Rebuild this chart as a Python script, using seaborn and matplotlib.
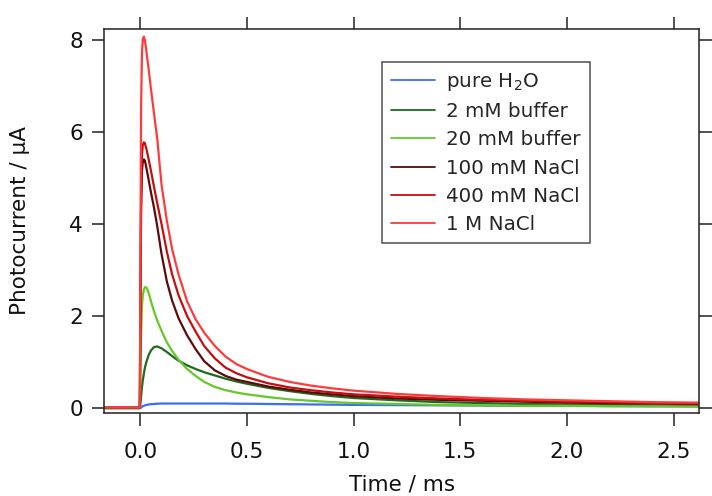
import numpy as np
import pandas as pd
import matplotlib
matplotlib.use("Agg")
import matplotlib.pyplot as plt
import seaborn as sns

# ---- data ----
time_ms = [-0.17, -0.10, -0.05, -0.002, 0.0, 0.004, 0.008, 0.012, 0.017, 0.022,
           0.03, 0.04, 0.05, 0.065, 0.08, 0.1, 0.125, 0.15, 0.18, 0.22,
           0.26, 0.3, 0.35, 0.4, 0.45, 0.5, 0.6, 0.7, 0.8, 0.9,
           1.0, 1.2, 1.4, 1.6, 1.8, 2.0, 2.2, 2.4, 2.62]

pure_h2o = [0.0, 0.0, 0.0, 0.0, 0.0, 0.01, 0.03, 0.04, 0.05, 0.06,
            0.07, 0.08, 0.085, 0.09, 0.095, 0.10, 0.10, 0.10, 0.10, 0.10,
            0.10, 0.10, 0.10, 0.10, 0.095, 0.095, 0.09, 0.085, 0.08, 0.075,
            0.07, 0.065, 0.06, 0.055, 0.05, 0.05, 0.045, 0.04, 0.04]

buffer_2mM = [0.0, 0.0, 0.0, 0.0, 0.05, 0.25, 0.45, 0.6, 0.75, 0.88,
              1.02, 1.16, 1.25, 1.33, 1.34, 1.30, 1.22, 1.13, 1.03, 0.93,
              0.85, 0.78, 0.71, 0.64, 0.58, 0.53, 0.44, 0.37, 0.31, 0.26,
              0.22, 0.17, 0.13, 0.11, 0.09, 0.08, 0.07, 0.06, 0.05]

buffer_20mM = [0.0, 0.0, 0.0, 0.0, 0.5, 1.6, 2.2, 2.45, 2.58, 2.63,
               2.62, 2.50, 2.33, 2.10, 1.90, 1.68, 1.43, 1.24, 1.05, 0.85,
               0.70, 0.57, 0.46, 0.39, 0.34, 0.30, 0.24, 0.19, 0.16, 0.13,
               0.11, 0.09, 0.07, 0.06, 0.05, 0.05, 0.04, 0.04, 0.03]

nacl_100mM = [0.01, 0.01, 0.01, 0.01, 1.4, 4.3, 5.15, 5.35, 5.41, 5.38,
              5.20, 4.95, 4.70, 4.35, 3.95, 3.35, 2.75, 2.33, 1.95, 1.58,
              1.28, 1.02, 0.82, 0.70, 0.62, 0.57, 0.47, 0.40, 0.34, 0.30,
              0.26, 0.21, 0.18, 0.16, 0.14, 0.12, 0.11, 0.10, 0.09]

nacl_400mM = [0.01, 0.01, 0.01, 0.01, 1.5, 4.6, 5.5, 5.72, 5.78, 5.76,
              5.62, 5.40, 5.17, 4.80, 4.45, 4.00, 3.40, 2.90, 2.45, 2.00,
              1.66, 1.35, 1.08, 0.88, 0.76, 0.67, 0.54, 0.45, 0.39, 0.34,
              0.30, 0.25, 0.21, 0.18, 0.16, 0.14, 0.13, 0.11, 0.10]

nacl_1M = [0.01, 0.01, 0.01, 0.01, 2.0, 6.5, 7.7, 8.02, 8.08, 8.0,
           7.72, 7.35, 6.95, 6.40, 5.85, 4.85, 4.07, 3.45, 2.90, 2.32,
           1.93, 1.64, 1.35, 1.12, 0.96, 0.85, 0.68, 0.57, 0.49, 0.43,
           0.38, 0.31, 0.26, 0.22, 0.19, 0.17, 0.15, 0.13, 0.12]

labels = ["pure H$_2$O", "2 mM buffer", "20 mM buffer",
          "100 mM NaCl", "400 mM NaCl", "1 M NaCl"]
colors = ["#3d6cf5", "#1d6a1d", "#66c72a", "#5c0a0a", "#c40f0f", "#ff3a3a"]

series = [pure_h2o, buffer_2mM, buffer_20mM, nacl_100mM, nacl_400mM, nacl_1M]
df = pd.concat([pd.DataFrame({"t": time_ms, "v": s, "sample": lab})
                for s, lab in zip(series, labels)], ignore_index=True)

# ---- plot ----
sns.set_style("white")
plt.rcParams["font.family"] = ["DejaVu Sans"]
fig = plt.figure(figsize=(7.12, 4.96), dpi=100)
ax = fig.add_axes([0.146, 0.167, 0.836, 0.775])

sns.lineplot(data=df, x="t", y="v", hue="sample", hue_order=labels,
             palette=dict(zip(labels, colors)), estimator=None, sort=False,
             linewidth=1.6, ax=ax)

ax.set_xlim(-0.17, 2.62)
ax.set_ylim(-0.11, 8.25)
ax.set_xticks([0.0, 0.5, 1.0, 1.5, 2.0, 2.5])
ax.set_xticklabels(["0.0", "0.5", "1.0", "1.5", "2.0", "2.5"])
ax.set_yticks([0, 2, 4, 6, 8])
ax.set_yticklabels(["0", "2", "4", "6", "8"])

for sp in ax.spines.values():
    sp.set_visible(True)
    sp.set_color("#222222")
    sp.set_linewidth(1.1)

ax.tick_params(axis="both", which="major", direction="out", length=9,
               width=1.1, color="#222222", labelsize=15.5, labelcolor="#111111",
               top=True, right=True, bottom=True, left=True)
ax.tick_params(axis="x", pad=12)
ax.tick_params(axis="y", pad=6)

ax.set_xlabel("Time / ms", fontsize=15.5, color="#111111", labelpad=9)
ax.set_ylabel("Photocurrent / \u00b5A", fontsize=15.5, color="#111111", labelpad=28)

leg = ax.legend(loc="upper left", bbox_to_anchor=(0.467, 0.914),
                borderaxespad=0, fontsize=14.3, frameon=True, fancybox=False,
                handlelength=2.2, handletextpad=0.6, labelspacing=0.47,
                borderpad=0.45, title=None)
leg.get_frame().set_edgecolor("#222222")
leg.get_frame().set_linewidth(1.1)
for line in leg.get_lines():
    line.set_linewidth(1.3)

fig.savefig("out.png", dpi=100)
